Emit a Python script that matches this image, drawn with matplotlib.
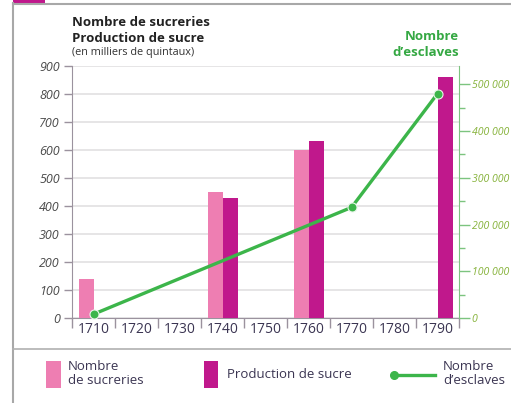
import numpy as np
import matplotlib.pyplot as plt
from matplotlib.lines import Line2D
from matplotlib.patches import Rectangle
from matplotlib.ticker import FixedLocator, FuncFormatter

plt.rcParams['font.family'] = ['Open Sans', 'DejaVu Sans']

# --- data ---
years = [1710, 1720, 1730, 1740, 1750, 1760, 1770, 1780, 1790]
sucreries_years = [1710, 1740, 1760]
sucreries = [140, 452, 600]
production_years = [1740, 1760, 1790]
production = [428, 632, 862]
esclaves_years = [1710, 1770, 1790]
esclaves = [9000, 237000, 480000]

PINK = '#ee7eb2'
MAGENTA = '#c0188c'
GREEN = '#3cb54a'
TXT = '#3b3552'
GRID = '#e2e0e2'

W, H = 511, 403
fig = plt.figure(figsize=(W / 100, H / 100), dpi=100)


def fx(px):
    return px / W


def fy(py):
    return 1 - py / H


ax = fig.add_axes([fx(72.3), fy(318.3), fx(459) - fx(72.3), fy(66) - fy(318.3)])
ax2 = ax.twinx()

pos = {y: i for i, y in enumerate(years)}
bw = 0.35
ax.bar([pos[y] - bw / 2 for y in sucreries_years], sucreries, bw, color=PINK, zorder=3)
ax.bar([pos[y] + bw / 2 for y in production_years], production, bw, color=MAGENTA, zorder=3)

ax2.plot([pos[y] for y in esclaves_years], esclaves, color=GREEN, lw=2.4,
         marker='o', ms=6.5, mfc=GREEN, mec='#e8f5e9', mew=0.8, zorder=4,
         solid_capstyle='round', clip_on=False)

ax.set_xlim(-0.5, len(years) - 0.5)
ax.set_ylim(0, 900)
ax2.set_ylim(0, 539000)

# left axis
ax.set_yticks(range(0, 901, 100))
ax.yaxis.grid(True, color=GRID, lw=1.2, zorder=0)
ax.set_axisbelow(True)
ax.tick_params(axis='y', length=6, width=1, color='#9b929e', pad=3,
               labelsize=9, labelcolor='#4a4a4a')
for lab in ax.get_yticklabels():
    lab.set_fontstyle('italic')

# x axis: ticks at category boundaries, labels at centres
ax.xaxis.set_major_locator(FixedLocator(np.arange(-0.5, len(years), 1.0)))
ax.xaxis.set_major_formatter(FuncFormatter(lambda v, p: ''))
ax.xaxis.set_minor_locator(FixedLocator(range(len(years))))
ax.xaxis.set_minor_formatter(FuncFormatter(lambda v, p: str(years[int(round(v))])))
ax.tick_params(axis='x', which='major', length=7, width=1, color='#9b929e')
ax.tick_params(axis='x', which='minor', length=0, pad=3, labelsize=10, labelcolor=TXT)

for sp in ['top', 'right']:
    ax.spines[sp].set_visible(False)
ax.spines['left'].set_color('#9b929e')
ax.spines['bottom'].set_color('#9b929e')

# right axis
for sp in ['top', 'left', 'bottom']:
    ax2.spines[sp].set_visible(False)
ax2.spines['right'].set_color('#7cc47f')
ax2.set_yticks(range(0, 500001, 100000))
ax2.yaxis.set_minor_locator(FixedLocator(range(50000, 539000, 100000)))
ax2.yaxis.set_major_formatter(FuncFormatter(lambda v, p: f'{int(v):,}'.replace(',', ' ')))
ax2.tick_params(axis='y', which='major', length=8, width=1, color='#7cc47f', pad=1,
                labelsize=7.6, labelcolor='#86b23a')
ax2.tick_params(axis='y', which='minor', length=4, width=1, color='#7cc47f')
for lab in ax2.get_yticklabels():
    lab.set_fontstyle('italic')

# titles
fig.text(fx(72), fy(23), 'Nombre de sucreries', fontsize=9.5, fontweight='bold',
         color='#222222', va='center', ha='left')
fig.text(fx(72), fy(38), 'Production de sucre', fontsize=9.5, fontweight='bold',
         color='#222222', va='center', ha='left')
fig.text(fx(72), fy(52), '(en milliers de quintaux)', fontsize=7.8,
         color='#333333', va='center', ha='left')
fig.text(fx(459), fy(36), 'Nombre', fontsize=9.5, fontweight='bold',
         color='#35a843', va='center', ha='right')
fig.text(fx(459), fy(52), 'd\u2019esclaves', fontsize=9.5, fontweight='bold',
         color='#35a843', va='center', ha='right')

# frame
fig.add_artist(Line2D([fx(13), fx(13)], [fy(3), 0], color='#a8a8a8', lw=1.5))
fig.add_artist(Line2D([fx(13), 1], [fy(3.5), fy(3.5)], color='#a8a8a8', lw=1.5))
fig.add_artist(Rectangle((fx(13), fy(3)), fx(45) - fx(13), 1 - fy(3), color=MAGENTA, lw=0))
fig.add_artist(Line2D([fx(13), 1], [fy(349), fy(349)], color='#b0b0b0', lw=1.2))

# legend (drawn by hand to follow the layout)
fig.add_artist(Rectangle((fx(46), fy(388)), fx(61) - fx(46), fy(361) - fy(388),
                         color=PINK, lw=0))
fig.text(fx(68), fy(366), 'Nombre', fontsize=9.5, color=TXT, va='center')
fig.text(fx(68), fy(381), 'de sucreries', fontsize=9.5, color=TXT, va='center')
fig.add_artist(Rectangle((fx(204), fy(388)), fx(218) - fx(204), fy(361) - fy(388),
                         color=MAGENTA, lw=0))
fig.text(fx(227), fy(374), 'Production de sucre', fontsize=9.5, color=TXT, va='center')
fig.add_artist(Line2D([fx(394), fx(435)], [fy(375), fy(375)], color=GREEN, lw=2.4))
fig.add_artist(Line2D([fx(394)], [fy(375)], color=GREEN, marker='o', ms=5.5, lw=0))
fig.text(fx(443), fy(366), 'Nombre', fontsize=9.5, color=TXT, va='center')
fig.text(fx(443), fy(381), 'd\u2019esclaves', fontsize=9.5, color=TXT, va='center')

fig.savefig('out.png', dpi=100)
